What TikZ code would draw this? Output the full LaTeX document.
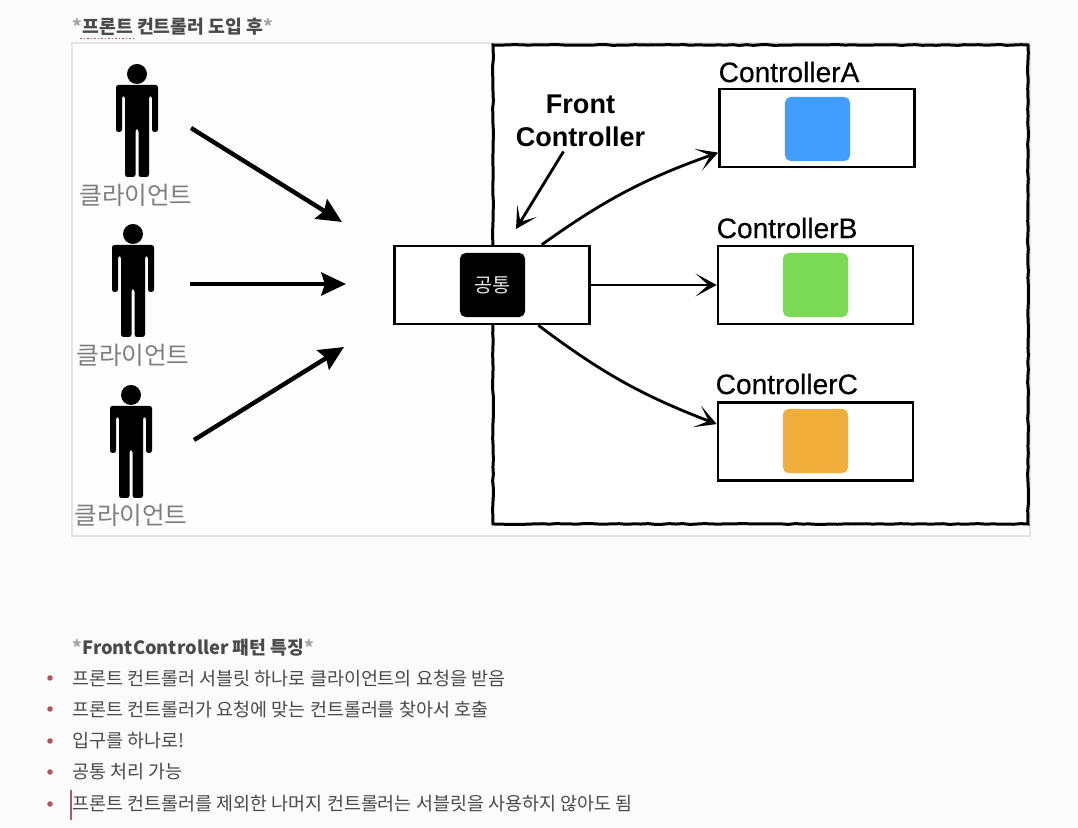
\documentclass[tikz,border=0pt]{standalone}
\usepackage{fontspec}
\setmainfont{Noto Sans CJK KR}
\newfontfamily\latinfont[FakeBold=0.4]{Liberation Sans}
\newfontfamily\latinbold{Liberation Sans}
\usetikzlibrary{arrows.meta,decorations.pathmorphing}
\definecolor{pagebg}{HTML}{FBFBFB}
\definecolor{framegray}{HTML}{E4E4E4}
\definecolor{labelgray}{HTML}{7F7F7F}
\definecolor{textgray}{HTML}{4A4A4A}
\definecolor{bulletred}{HTML}{B5505F}
\definecolor{blueA}{HTML}{419EFF}
\definecolor{greenB}{HTML}{7AD955}
\definecolor{orangeC}{HTML}{F2AE3A}
\tikzset{
    px/.style={x=0.01cm,y=-0.01cm},
    bigarrow/.style={line width=1.25pt,-{Stealth[length=7pt,width=6.5pt,inset=1pt]}},
    thinarrow/.style={line width=0.8pt,-{Stealth[length=6pt,width=6.5pt,inset=3.6pt]}},
    ctrlbox/.style={draw,fill=white,line width=0.72pt,minimum width=1.95cm,minimum height=0.78cm,inner sep=0},
    tile/.style={rounded corners=1.6pt,minimum width=0.65cm,minimum height=0.64cm,inner sep=0},
    clientlabel/.style={text=labelgray,font=\fontsize{7}{8}\selectfont,inner sep=0},
    ctrllabel/.style={anchor=west,font=\latinfont\fontsize{8}{9}\selectfont,inner sep=0},
    item/.style={anchor=west,text=textgray,font=\fontsize{5.25}{6}\selectfont,inner sep=0},
    headline/.style={anchor=west,text=textgray,font=\bfseries\fontsize{5.2}{6}\selectfont,inner sep=0},
    bullet/.style={circle,fill=bulletred,minimum size=0.055cm,inner sep=0},
    person/.pic={
        \fill (0,0) circle[radius=10];
        \fill[rounded corners=0.7pt] (0,11) -- (21,11) -- (21,58) -- (15,58) -- (15,22) -- (12,22) -- (12,103) -- (1.5,103) -- (1.5,55) -- (-1.5,55) -- (-1.5,103) -- (-12,103) -- (-12,22) -- (-15,22) -- (-15,58) -- (-21,58) -- (-21,11) -- cycle;
    },
}
\begin{document}
\begin{tikzpicture}[px]
    \useasboundingbox[fill=pagebg] (0,0) rectangle (1078,828);
    \node[headline] (title) at (72,27) {{\color{labelgray!70}*}프론트 컨트롤러 도입 후{\color{labelgray!70}*}};
    \draw[bulletred,line width=0.4pt,dash pattern=on 0.5pt off 0.5pt] (80,38.5) -- (133,38.5);
    % frames
    \draw[framegray,fill=white!40!pagebg,line width=0.3pt] (72,43) rectangle (1030,536);
    \draw[fill=white,line width=0.85pt,decorate,decoration={random steps,segment length=2pt,amplitude=0.12pt}] (493,45) rectangle (1028,524);
    % clients
    \pic at (137,74) {person};
    \pic at (133,234) {person};
    \pic at (131,395) {person};
    \node[clientlabel] (client1) at (136,195) {클라이언트};
    \node[clientlabel] (client2) at (133,355) {클라이언트};
    \node[clientlabel] (client3) at (131,515) {클라이언트};
    \coordinate (from1) at (191,128);
    \coordinate (from2) at (190,284);
    \coordinate (from3) at (194,440);
    \coordinate (to1) at (342,222);
    \coordinate (to2) at (346,284);
    \coordinate (to3) at (344,347);
    \draw[bigarrow] (from1) -- (to1);
    \draw[bigarrow] (from2) -- (to2);
    \draw[bigarrow] (from3) -- (to3);
    % controllers
    \node[ctrlbox] (front) at (492,285) {};
    \node[ctrlbox] (ctrlA) at (817,128) {};
    \node[ctrlbox] (ctrlB) at (815.5,285) {};
    \node[ctrlbox] (ctrlC) at (815.5,441.5) {};
    \node[tile,fill=black,text=white!90!black,font=\fontsize{5.6}{6}\selectfont] (common) at (492.5,285) {공통};
    \node[tile,fill=blueA] (tileA) at (817.5,129) {};
    \node[tile,fill=greenB] (tileB) at (815.5,285) {};
    \node[tile,fill=orangeC] (tileC) at (815.5,441) {};
    \node[ctrllabel] (nameA) at (718,72) {ControllerA};
    \node[ctrllabel] (nameB) at (716,228) {ControllerB};
    \node[ctrllabel] (nameC) at (715,384) {ControllerC};
    \node[align=center,font=\latinbold\bfseries\fontsize{7.7}{9.3}\selectfont,inner sep=0] (frontname) at (580.5,121) {Front\\Controller};
    \coordinate (frontpoint) at (516,229);
    \draw[thinarrow] (frontname.south) ++(-17,4) -- (frontpoint);
    \draw[thinarrow] (front.39) to[bend left=8] (ctrlA.194);
    \draw[thinarrow] (front.east) -- (ctrlB.west);
    \draw[thinarrow] (front.-41) to[bend right=8] (ctrlC.170);
    % notes
    \node[headline] (notes) at (72,648) {{\color{labelgray!70}*}FrontController 패턴 특징{\color{labelgray!70}*}};
    \node[item] (item1) at (72,679) {프론트 컨트롤러 서블릿 하나로 클라이언트의 요청을 받음};
    \node[item] (item2) at (72,710) {프론트 컨트롤러가 요청에 맞는 컨트롤러를 찾아서 호출};
    \node[item] (item3) at (72,741) {입구를 하나로!};
    \node[item] (item4) at (72,772) {공통 처리 가능};
    \node[item] (item5) at (72,804) {프론트 컨트롤러를 제외한 나머지 컨트롤러는 서블릿을 사용하지 않아도 됨};
    \node[bullet] (dot1) at (50,678) {};
    \node[bullet] (dot2) at (50,709) {};
    \node[bullet] (dot3) at (50,741) {};
    \node[bullet] (dot4) at (50,772) {};
    \node[bullet] (dot5) at (50,804) {};
    \draw[bulletred!70!gray,line width=0.3pt] (71,790) -- (71,820);
\end{tikzpicture}
\end{document}
